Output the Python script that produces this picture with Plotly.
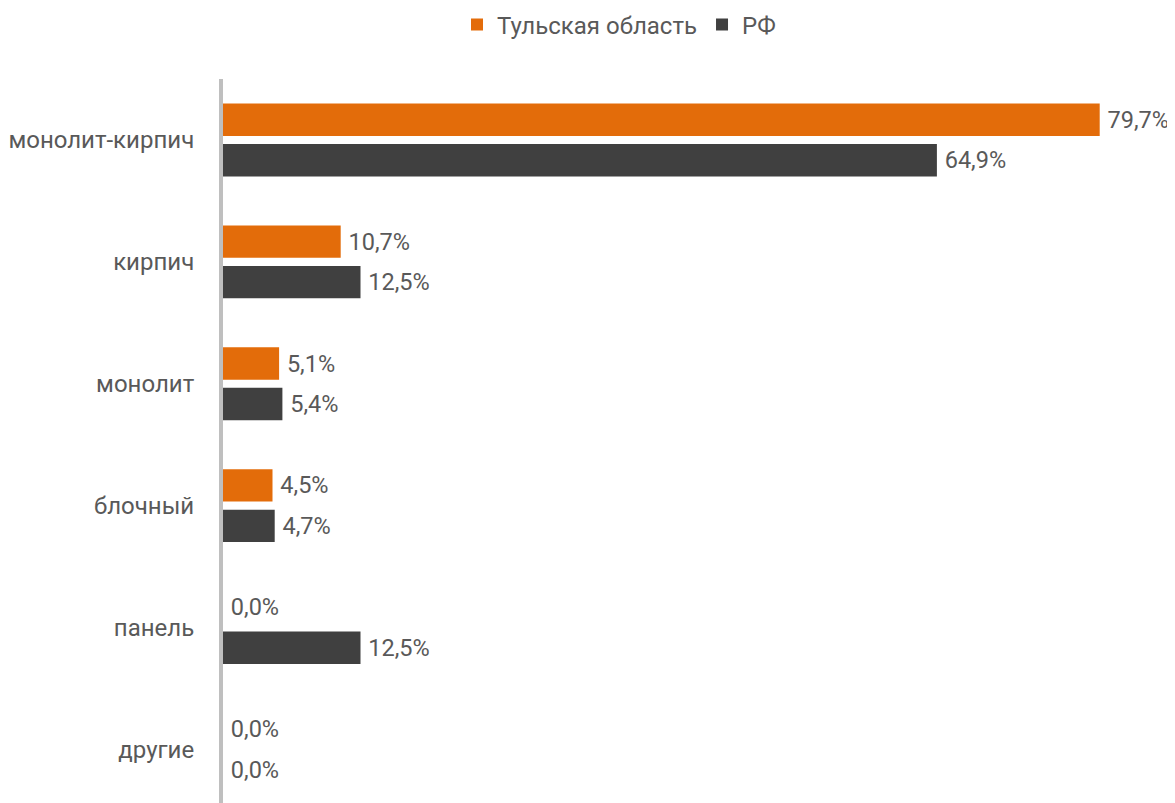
import plotly.graph_objects as go

categories = ["монолит-кирпич", "кирпич", "монолит", "блочный", "панель", "другие"]
tula = [79.7, 10.7, 5.1, 4.5, 0.0, 0.0]
rf = [64.9, 12.5, 5.4, 4.7, 12.5, 0.0]
series_names = ["Тульская область", "РФ"]

def fmt(v):
    return "\u2009" + f"{v:.1f}".replace(".", ",") + "%"

FONT = dict(family="Roboto", size=24, color="#595959")
LABEL_FONT = dict(family="Roboto", size=23.5, color="#595959")

fig = go.Figure()
fig.add_trace(go.Bar(
    y=categories, x=tula, orientation="h", name=series_names[0],
    marker=dict(color="#E36C0A", line=dict(width=0)),
    text=[fmt(v) for v in tula], textposition="outside", cliponaxis=False,
    textfont=LABEL_FONT, constraintext="none",
))
fig.add_trace(go.Bar(
    y=categories, x=rf, orientation="h", name=series_names[1],
    marker=dict(color="#404040", line=dict(width=0)),
    text=[fmt(v) for v in rf], textposition="outside", cliponaxis=False,
    textfont=LABEL_FONT, constraintext="none",
))

fig.update_layout(
    width=1167, height=795,
    margin=dict(l=215, r=72, t=70.5, b=0, autoexpand=False),
    paper_bgcolor="white", plot_bgcolor="white",
    barmode="group", bargap=0.336, bargroupgap=0.2,
    font=FONT,
    legend=dict(orientation="h", xref="container", yref="container",
                x=611 / 1167, xanchor="center", y=1 - 17 / 795, yanchor="middle",
                font=FONT, itemwidth=30, traceorder="normal"),
    showlegend=True,
)
fig.update_xaxes(range=[0, 80], showgrid=False, zeroline=False, showticklabels=False, showline=False)
fig.update_yaxes(range=[5.439, -0.5], type="category", showgrid=False, zeroline=False,
                 showline=True, linecolor="#BFBFBF", linewidth=4, ticks="", ticklabelstandoff=20,
                 tickfont=FONT)

fig.write_html("out.html")
